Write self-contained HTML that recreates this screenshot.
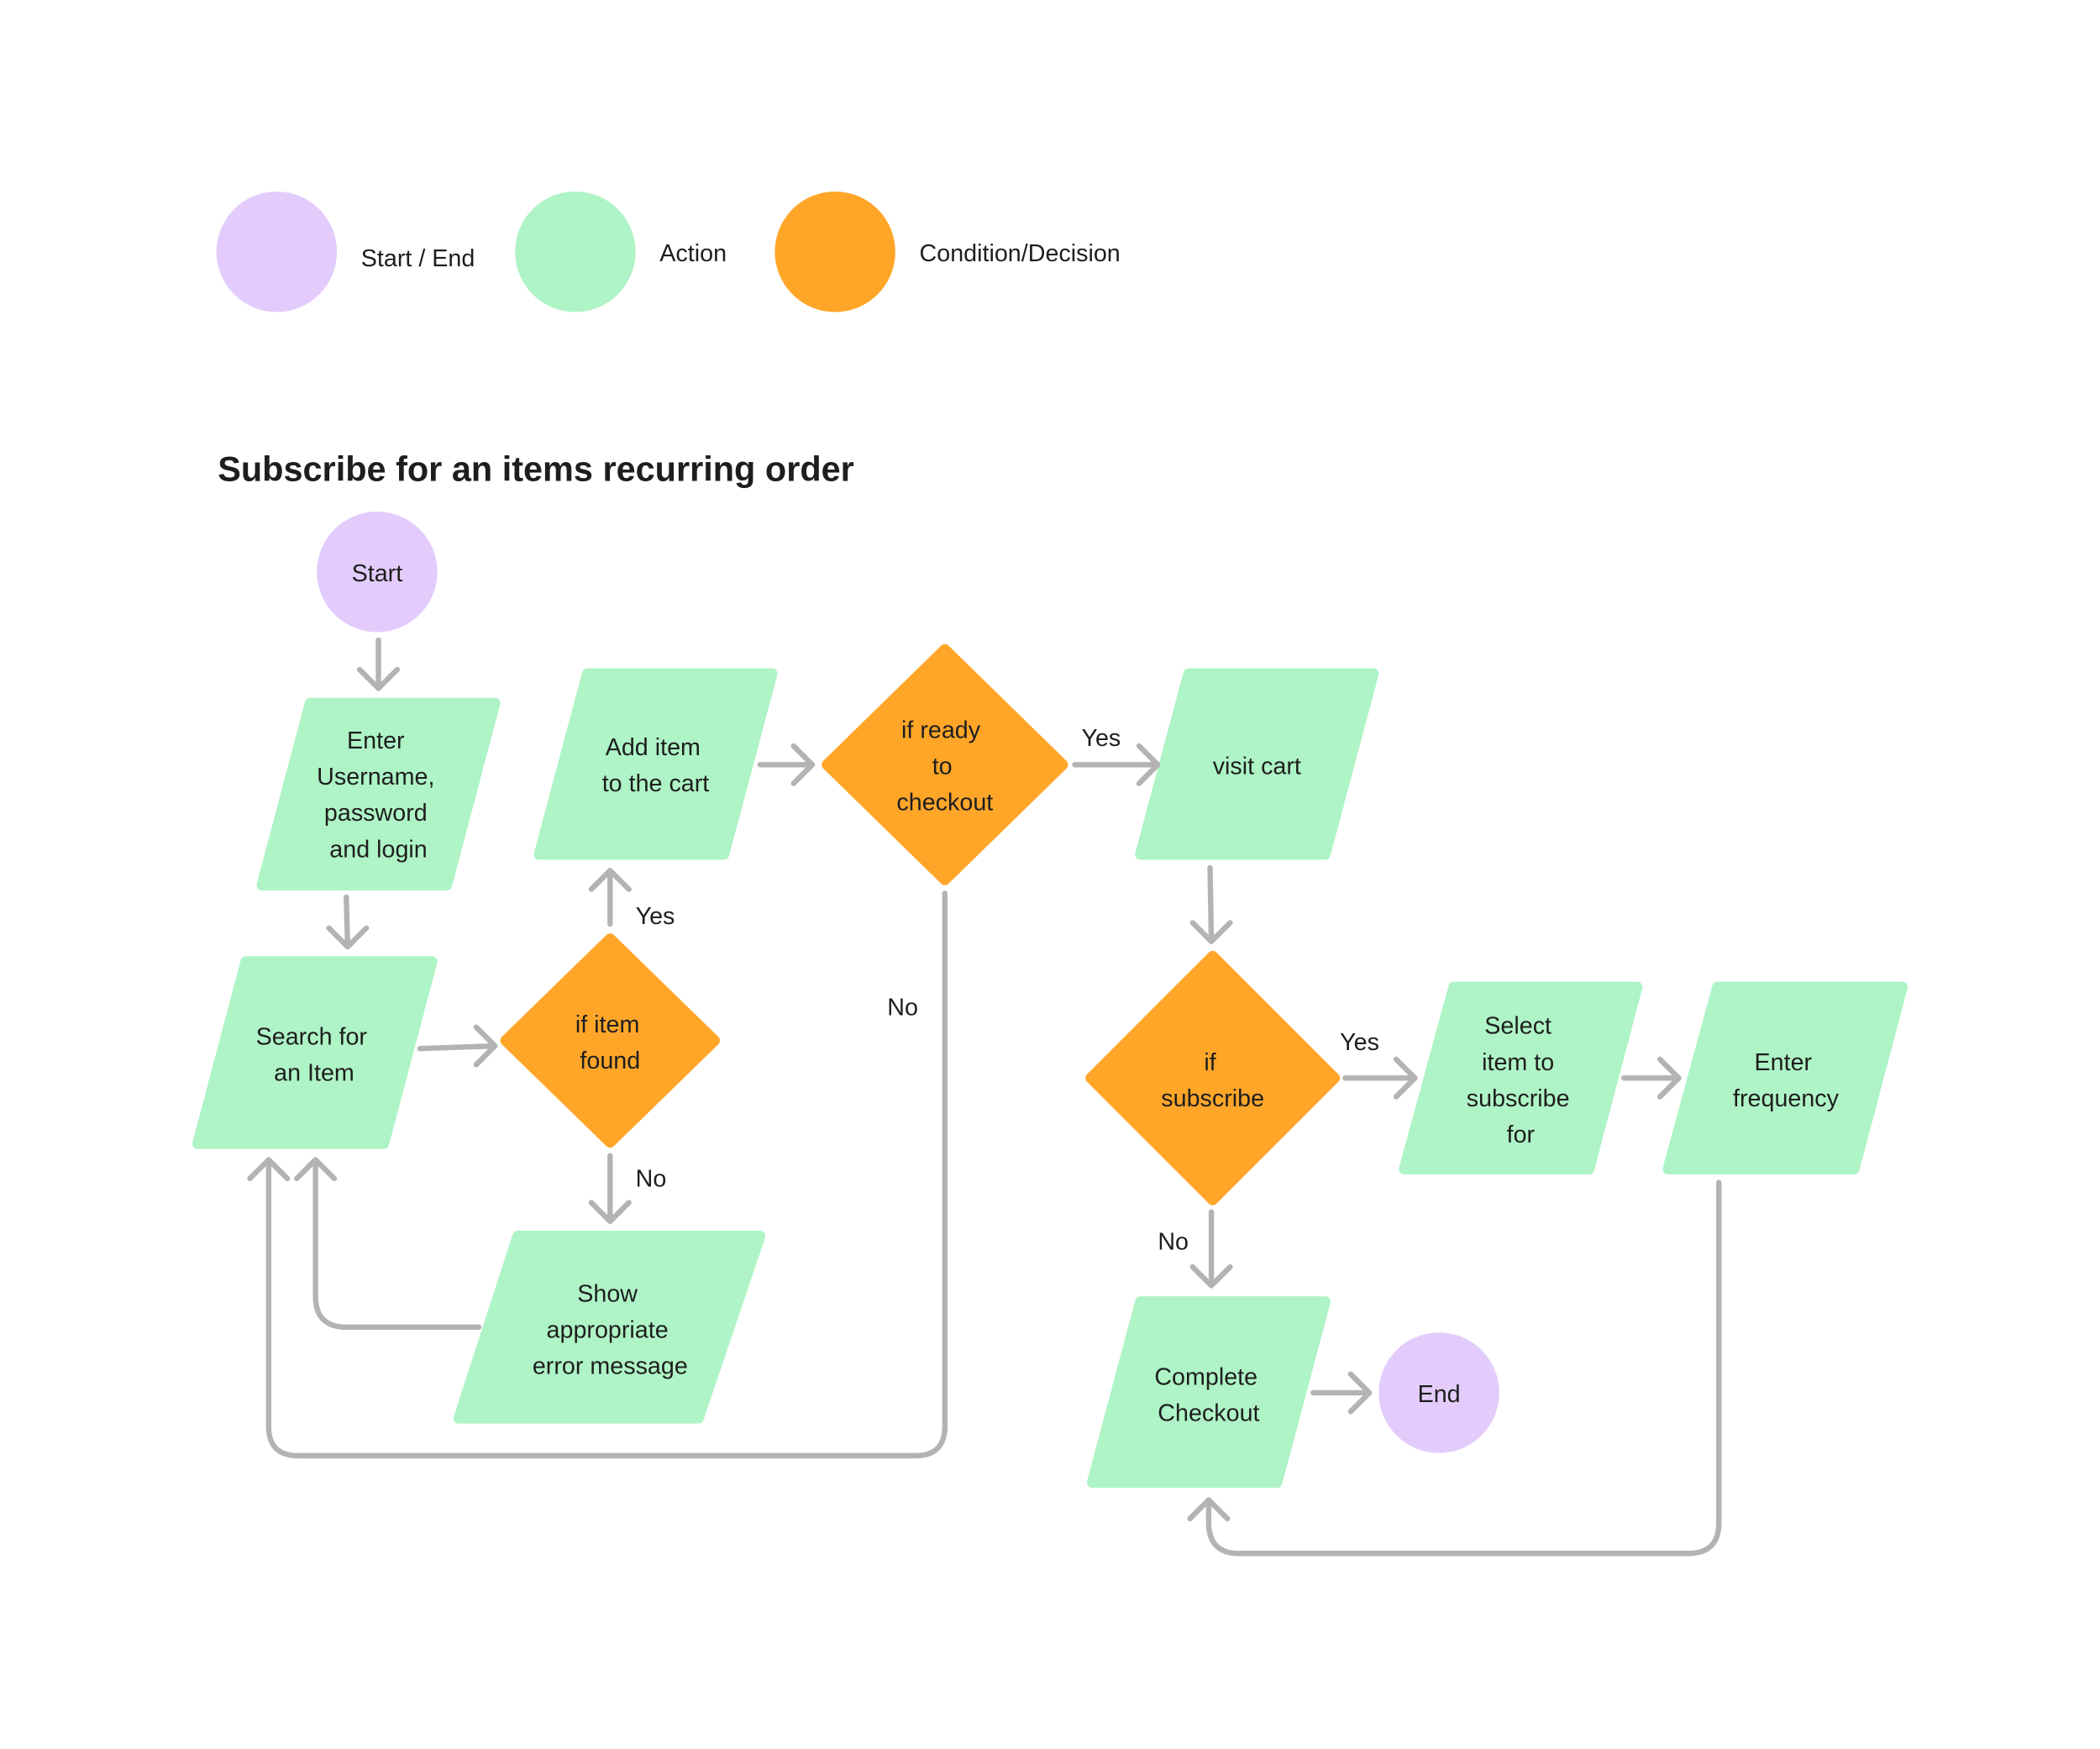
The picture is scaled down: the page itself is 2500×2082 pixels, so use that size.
<!DOCTYPE html>
<html><head><meta charset="utf-8"><style>
html,body{margin:0;padding:0;background:#fff}
svg{display:block}
text{font-family:"Liberation Sans",sans-serif;font-size:18px;fill:#1e1e1e}
.t{text-anchor:middle}
.a{fill:none;stroke:#B3B3B3;stroke-width:4;stroke-linecap:round;stroke-linejoin:round}
.g{fill:#AFF4C6;stroke:#AFF4C6;stroke-width:8;stroke-linejoin:round}
.o{fill:#FFA629;stroke:#FFA629;stroke-width:8;stroke-linejoin:round}
</style></head><body>
<svg width="2500" height="2082" viewBox="0 0 1567 1306" xmlns="http://www.w3.org/2000/svg">
<!-- legend -->
<circle cx="206" cy="188" r="45" fill="#E3CCFC"/>
<circle cx="429" cy="188" r="45" fill="#AFF4C6"/>
<circle cx="623" cy="188" r="45" fill="#FFA629"/>
<text x="269" y="199">Start / End</text>
<text x="492" y="195">Action</text>
<text x="686" y="195">Condition/Decision</text>
<text x="162" y="359" style="font-size:26px;font-weight:bold">Subscribe for an items recurring order</text>

<!-- nodes -->
<circle cx="281" cy="427" r="45" fill="#E3CCFC"/>
<text class="t" x="281" y="434">Start</text>

<polygon class="g" points="231,525 369,525 333,661 195,661"/>
<text class="t" x="280" y="559">Enter</text><text class="t" x="280" y="586">Username,</text><text class="t" x="280" y="613">password</text><text class="t" x="282" y="640">and login</text>

<polygon class="g" points="438,503 576,503 540,638 402,638"/>
<text class="t" x="487" y="564">Add item</text><text class="t" x="489" y="591">to the cart</text>

<polygon class="o" points="705,485 793,571 705,657 617,571"/>
<text class="t" x="702" y="551">if ready</text><text class="t" x="703" y="578">to</text><text class="t" x="705" y="605">checkout</text>

<polygon class="g" points="887,503 1025,503 989,638 851,638"/>
<text class="t" x="938" y="578">visit cart</text>

<polygon class="g" points="183,718 322,718 286,854 147,854"/>
<text class="t" x="232" y="780">Search for</text><text class="t" x="234" y="807">an Item</text>

<polygon class="o" points="455,701 533,777 455,853 377,777"/>
<text class="t" x="453" y="771">if item</text><text class="t" x="455" y="798">found</text>

<polygon class="g" points="386,923 567,923 521,1059 342,1059"/>
<text class="t" x="453" y="972">Show</text><text class="t" x="453" y="999">appropriate</text><text class="t" x="455" y="1026">error message</text>

<polygon class="o" points="905,714 996,805 905,896 814,805"/>
<text class="t" x="903" y="799">if</text><text class="t" x="905" y="826">subscribe</text>

<polygon class="g" points="1085,737 1222,737 1186,873 1048,873"/>
<text class="t" x="1133" y="772">Select</text><text class="t" x="1133" y="799">item to</text><text class="t" x="1133" y="826">subscribe</text><text class="t" x="1135" y="853">for</text>

<polygon class="g" points="1282,737 1420,737 1384,873 1245,873"/>
<text class="t" x="1331" y="799">Enter</text><text class="t" x="1333" y="826">frequency</text>

<polygon class="g" points="851,972 989,972 953,1107 815,1107"/>
<text class="t" x="900" y="1034">Complete</text><text class="t" x="902" y="1061">Checkout</text>

<circle cx="1074" cy="1040" r="45" fill="#E3CCFC"/>
<text class="t" x="1074" y="1047">End</text>

<!-- arrows -->
<path class="a" d="M282 478 V514 M268 500 L282 514 L296 500"/>
<path class="a" d="M258 670 L259 707 M245 693 L259 707 L273 693"/>
<path class="a" d="M313 783 L369 781 M355 767 L369 781 L355 795"/>
<path class="a" d="M455 690 V650 M441 664 L455 650 L469 664"/>
<text x="474" y="690">Yes</text>
<path class="a" d="M455 863 V912 M441 898 L455 912 L469 898"/>
<text x="474" y="886">No</text>
<path class="a" d="M567 571 H606 M592 557 L606 571 L592 585"/>
<path class="a" d="M802 571 H864 M850 557 L864 571 L850 585"/>
<text x="807" y="557">Yes</text>
<path class="a" d="M705 667 V1065 Q705 1087 683 1087 H222 Q200 1087 200 1065 V866 M186 880 L200 866 L214 880"/>
<text x="662" y="758">No</text>
<path class="a" d="M357 991 H258 Q235 991 235 968 V866 M221 880 L235 866 L249 880"/>
<path class="a" d="M903 648 L904 703 M890 689 L904 703 L918 689"/>
<path class="a" d="M1004 805 H1056 M1042 791 L1056 805 L1042 819"/>
<text x="1000" y="784">Yes</text>
<path class="a" d="M1212 805 H1253 M1239 791 L1253 805 L1239 819"/>
<path class="a" d="M904 905 V960 M890 946 L904 960 L918 946"/>
<text x="864" y="933">No</text>
<path class="a" d="M980 1040 H1022 M1008 1026 L1022 1040 L1008 1054"/>
<path class="a" d="M1283 883 V1137 Q1283 1160 1260 1160 H925 Q902 1160 902 1137 V1120 M888 1134 L902 1120 L916 1134"/>
</svg>
</body></html>
